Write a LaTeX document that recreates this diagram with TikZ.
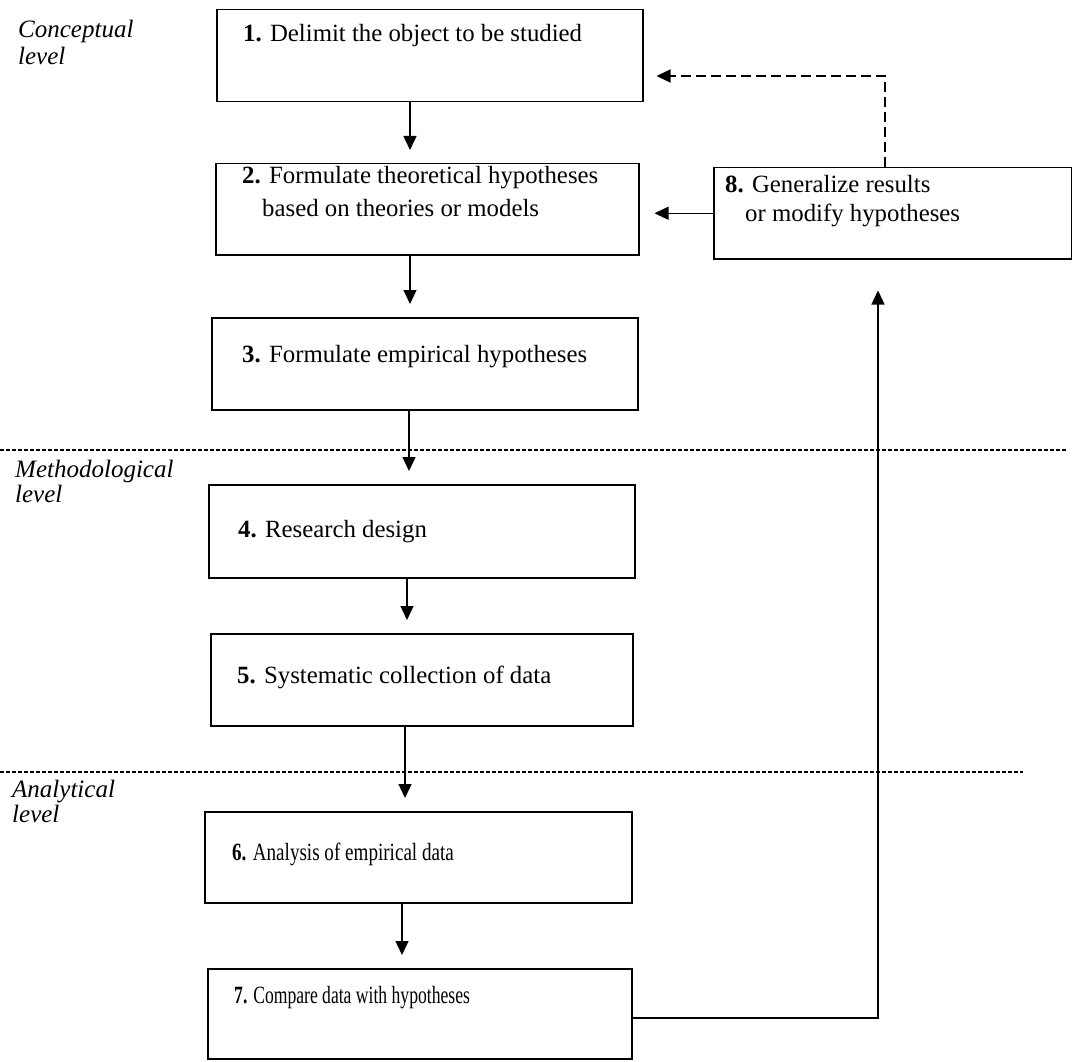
\documentclass[tikz,border=0pt]{standalone}
\usepackage{fontspec}
\usepackage{graphicx}
\setmainfont{Liberation Serif}
\usetikzlibrary{arrows.meta,calc}
\begin{document}
\begin{tikzpicture}[x=1pt,y=-1pt,
  box/.style={draw, line width=1.5pt, inner sep=0pt, anchor=north west},
  txt/.style={anchor=base west, inner sep=0pt, font=\fontsize{24.8}{28}\selectfont},
  lvl/.style={anchor=base west, inner sep=0pt, font=\fontsize{25}{28}\selectfont\itshape},
  arr/.style={line width=1.4pt, -{Triangle[length=14pt,width=13pt]}},
  sep/.style={line width=1.7pt, dash pattern=on 4pt off 2pt}]
\useasboundingbox (0,0) rectangle (1072,1062);
% boxes
\node[box, minimum width=426pt, minimum height=92pt] (b1) at (216,9) {};
\node[box, minimum width=423pt, minimum height=91pt] (b2) at (215,163) {};
\node[box, minimum width=426pt, minimum height=92pt] (b3) at (211,317) {};
\node[box, minimum width=426pt, minimum height=93pt] (b4) at (208,484) {};
\node[box, minimum width=422pt, minimum height=92pt] (b5) at (210,633) {};
\node[box, minimum width=427pt, minimum height=91pt] (b6) at (204,811) {};
\node[box, minimum width=424pt, minimum height=90pt] (b7) at (207,968) {};
\node[box, minimum width=358pt, minimum height=91pt] (b8) at (713,167) {};
% box texts
\node[txt] (t1) at (243,42) {\textbf{1.} Delimit the object to be studied};
\node[txt] (t2) at (242,184) {\textbf{2.} Formulate theoretical hypotheses};
\node[txt] (t2b) at (262,217) {based on theories or models};
\node[txt] (t3) at (242,362) {\textbf{3.} Formulate empirical hypotheses};
\node[txt] (t4) at (238,537) {\textbf{4.} Research design};
\node[txt] (t5) at (237,683) {\textbf{5.} Systematic collection of data};
\node[txt] (t6) at (232,860) {\scalebox{0.77}[1]{\textbf{6.} Analysis of empirical data}};
\node[txt] (t7) at (234,1003) {\scalebox{0.71}[1]{\textbf{7.} Compare data with hypotheses}};
\node[txt] (t8) at (725,193) {\textbf{8.} Generalize results};
\node[txt] (t8b) at (745,222) {or modify hypotheses};
% level labels
\node[lvl] (l1) at (18,38) {Conceptual};
\node[lvl] (l1b) at (18,65) {level};
\node[lvl] (l2) at (15,477) {Methodological};
\node[lvl] (l2b) at (15,502) {level};
\node[lvl] (l3) at (12,797) {Analytical};
\node[lvl] (l3b) at (12,822) {level};
% separators
\coordinate (s1a) at (0,450); \coordinate (s1b) at (1067,450);
\coordinate (s2a) at (0,772); \coordinate (s2b) at (1023,772);
\draw[sep] (s1a) -- (s1b);
\draw[sep] (s2a) -- (s2b);
% vertical flow arrows
\coordinate (x1) at (410,0); \coordinate (x2) at (410,0); \coordinate (x3) at (409,0);
\coordinate (x4) at (407,0); \coordinate (x5) at (405,0); \coordinate (x6) at (402,0);
\draw[arr, shorten >=13pt] (b1.south -| x1) -- (b2.north -| x1);
\draw[arr, shorten >=13pt] (b2.south -| x2) -- (b3.north -| x2);
\draw[arr, shorten >=13pt] (b3.south -| x3) -- (b4.north -| x3);
\draw[arr, shorten >=13pt] (b4.south -| x4) -- (b5.north -| x4);
\draw[arr, shorten >=13pt] (b5.south -| x5) -- (b6.north -| x5);
\draw[arr, shorten >=13pt] (b6.south -| x6) -- (b7.north -| x6);
% feedback arrows
\draw[arr, shorten >=15pt] (b8.west) -- (b2.east |- b8.west);
\coordinate (d1) at (885,76);
\draw[arr, dash pattern=on 10pt off 5pt, shorten >=13pt] (b8.north -| d1) -- (d1) -- (b1.east |- d1);
\coordinate (c7) at (878,1018);
\draw[arr, shorten >=31pt] (b7.east |- c7) -- (c7) -- (b8.south -| c7);
\end{tikzpicture}
\end{document}
